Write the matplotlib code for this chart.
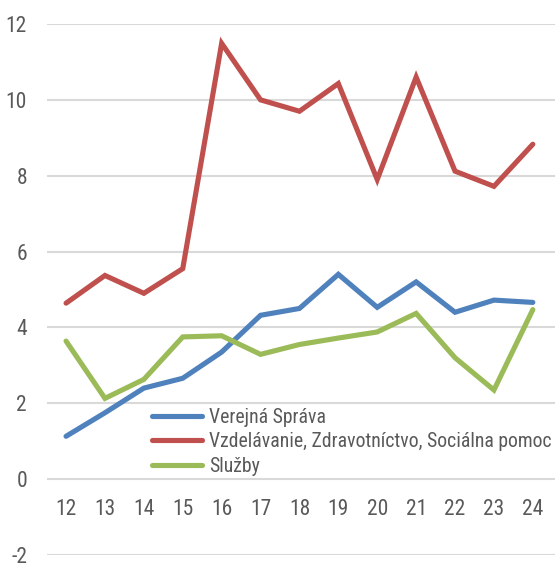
import matplotlib
matplotlib.use('Agg')
from matplotlib import pyplot as plt

years = [12, 13, 14, 15, 16, 17, 18, 19, 20, 21, 22, 23, 24]
verejna = [1.13, 1.75, 2.40, 2.66, 3.35, 4.32, 4.50, 5.40, 4.53, 5.20, 4.40, 4.72, 4.66]
vzdelavanie = [4.64, 5.37, 4.90, 5.55, 11.49, 10.0, 9.70, 10.43, 7.90, 10.60, 8.12, 7.72, 8.83]
sluzby = [3.64, 2.13, 2.63, 3.75, 3.78, 3.29, 3.55, 3.72, 3.88, 4.37, 3.20, 2.35, 4.47]
labels = ['Verejná Správa', 'Vzdelávanie, Zdravotníctvo, Sociálna pomoc', 'Služby']
yticks = [-2, 0, 2, 4, 6, 8, 10, 12]

plt.rcParams['font.family'] = ['Roboto Condensed', 'DejaVu Sans']

txt = '#595959'
fig = plt.figure(figsize=(5.55, 5.63), dpi=100)
ax = fig.add_axes([47 / 555, 8 / 563, 1 - 47 / 555, 531 / 563])

ax.plot(years, verejna, color='#4F81BD', lw=3.7, label=labels[0], solid_capstyle='round', solid_joinstyle='miter')
ax.plot(years, vzdelavanie, color='#C0504D', lw=3.7, label=labels[1], solid_capstyle='round', solid_joinstyle='miter')
ax.plot(years, sluzby, color='#9BBB59', lw=3.7, label=labels[2], solid_capstyle='round', solid_joinstyle='miter')

ax.set_ylim(-2, 12)
ax.set_xlim(11.51, 24.57)
ax.set_yticks(yticks)
ax.set_yticklabels([str(v) for v in yticks])
ax.yaxis.grid(True, color='#D9D9D9', lw=1.5)
ax.set_axisbelow(True)
ax.tick_params(axis='y', length=0, pad=14.4, labelsize=15.5, labelcolor=txt)
ax.set_xticks([])
for s in ax.spines.values():
    s.set_visible(False)

# category labels sit between 0 and -2
for yr in years:
    ax.text(yr, -0.8, str(yr), ha='center', va='center', fontsize=15.5, color=txt)

leg = ax.legend(loc='upper left', bbox_to_anchor=(152 / 555, 1 - 408 / 563),
                bbox_transform=fig.transFigure, frameon=False, fontsize=14.2,
                handlelength=2.55, handletextpad=0.33, labelspacing=0.27,
                borderpad=0, borderaxespad=0)
for t in leg.get_texts():
    t.set_color(txt)

fig.savefig('out.png', dpi=100)
